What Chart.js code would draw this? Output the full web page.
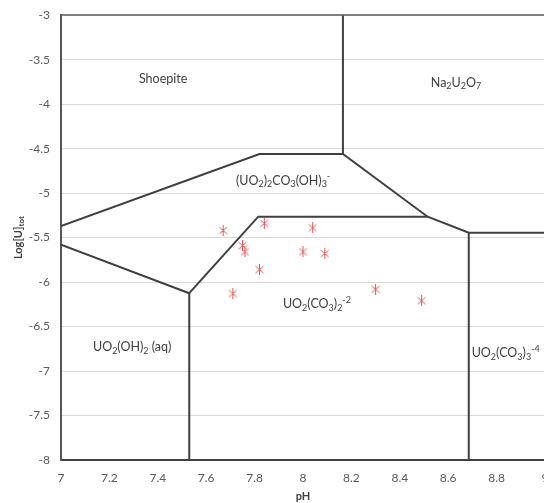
<!DOCTYPE html>
<html>
<head>
<meta charset="utf-8">
<script src="https://cdn.jsdelivr.net/npm/chart.js@4"></script>
<style>
html,body{margin:0;padding:0;background:#fff;overflow:hidden;}
#myChart{display:block;margin-top:-3px;}
</style>
</head>
<body>
<canvas id="myChart" width="580" height="506"></canvas>
<script>
// measured samples (pH, log[U]tot)
const samplePH   = [7.67, 7.84, 8.04, 7.75, 7.76, 8.00, 8.09, 7.82, 7.71, 8.30, 8.49];
const sampleLogU = [-5.42, -5.34, -5.39, -5.59, -5.66, -5.66, -5.68, -5.86, -6.13, -6.08, -6.21];

// stability field boundaries, [pH, logU]
const shoepiteNaLine = [[8.165, -3], [8.165, -4.56]];
const upperLine      = [[7, -5.37], [7.82, -4.56], [8.165, -4.56], [8.515, -5.265], [8.685, -5.445], [9, -5.445]];
const lowerLeftLine  = [[7, -5.58], [7.53, -6.125], [7.53, -8]];
const carbonateLine  = [[7.53, -6.125], [7.815, -5.265], [8.515, -5.265]];
const rightLine      = [[8.685, -5.445], [8.685, -8]];

// field names (left edge pH, logU)
const fieldNames = ['Shoepite', 'Na_{2}U_{2}O_{7}', '(UO_{2})_{2}CO_{3}(OH)_{3}^{-}', 'UO_{2}(CO_{3})_{2}^{-2}', 'UO_{2}(OH)_{2} (aq)', 'UO_{2}(CO_{3})_{3}^{-4}'];
const fieldPH    = [7.322, 8.528, 7.723, 7.917, 7.132, 8.697];
const fieldLogU  = [-3.72, -3.76, -4.86, -6.25, -6.73, -6.80];

const xTickStep = 0.2;
const yTickStep = 0.5;

// asterisk marker like the excel one
const star = document.createElement('canvas');
star.width = 11; star.height = 11;
const sc = star.getContext('2d');
sc.strokeStyle = 'rgb(228,88,88)';
sc.lineWidth = 1;
sc.beginPath();
sc.moveTo(1.5, 2); sc.lineTo(9.5, 9);
sc.moveTo(9.5, 2); sc.lineTo(1.5, 9);
sc.moveTo(5.5, 0); sc.lineTo(5.5, 11);
sc.stroke();

function toPts(arr) { return arr.map(p => ({x: p[0], y: p[1]})); }

function lineSet(arr) {
  return {
    data: toPts(arr),
    showLine: true,
    borderColor: '#3f3f3f',
    borderWidth: 2,
    pointRadius: 0,
    fill: false
  };
}

function parseRich(s) {
  const out = [];
  const re = /_\{([^}]*)\}|\^\{([^}]*)\}|([^_^]+)/g;
  let m;
  while ((m = re.exec(s)) !== null) {
    if (m[1] !== undefined) out.push([m[1], 'sub']);
    else if (m[2] !== undefined) out.push([m[2], 'sup']);
    else out.push([m[3], 'n']);
  }
  return out;
}

function drawRich(ctx, str, x, y, size, weight, color, align) {
  const segs = parseRich(str);
  const fam = 'Lato, "Open Sans", sans-serif';
  const fontFor = t => weight + ' ' + (t == 'n' ? size : Math.round(size * 0.7)) + 'px ' + fam;
  let total = 0;
  segs.forEach(s => { ctx.font = fontFor(s[1]); total += ctx.measureText(s[0]).width; });
  let cx = align == 'center' ? x - total / 2 : x;
  ctx.fillStyle = color;
  ctx.textBaseline = 'middle';
  ctx.textAlign = 'left';
  segs.forEach(s => {
    ctx.font = fontFor(s[1]);
    let dy = 0;
    if (s[1] == 'sub') dy = size * 0.3;
    if (s[1] == 'sup') dy = -size * 0.35;
    ctx.fillText(s[0], cx, y + dy);
    cx += ctx.measureText(s[0]).width;
  });
}

const labelPlugin = {
  id: 'labels',
  afterDraw(chart) {
    const ctx = chart.ctx;
    const xs = chart.scales.x, ys = chart.scales.y;
    ctx.save();
    fieldNames.forEach((n, i) => {
      drawRich(ctx, n, xs.getPixelForValue(fieldPH[i]), ys.getPixelForValue(fieldLogU[i]), 12.5, 'normal', '#404040', 'left');
    });
    // axis titles
    const area = chart.chartArea;
    drawRich(ctx, 'pH', 303, area.bottom + 36, 11, 'bold', '#404040', 'center');
    ctx.translate(18, (area.top + area.bottom) / 2);
    ctx.rotate(-Math.PI / 2);
    drawRich(ctx, 'Log[U]_{tot}', 0, 0, 11, 'bold', '#404040', 'center');
    ctx.restore();
  }
};

const ctx = document.getElementById('myChart');
new Chart(ctx, {
  type: 'scatter',
  data: {
    datasets: [
      lineSet(shoepiteNaLine),
      lineSet(upperLine),
      lineSet(lowerLeftLine),
      lineSet(carbonateLine),
      lineSet(rightLine),
      {
        data: samplePH.map((v, i) => ({x: v, y: sampleLogU[i]})),
        pointStyle: star,
        pointRadius: 5,
        showLine: false
      }
    ]
  },
  options: {
    responsive: false,
    animation: false,
    layout: { padding: { left: 0, top: 11, right: 35, bottom: 0 } },
    plugins: { legend: { display: false }, tooltip: { enabled: false } },
    scales: {
      x: {
        type: 'linear',
        min: 7, max: 9,
        afterFit(scale) { scale.height = 43; },
        grid: { display: false, drawTicks: false },
        border: { color: '#404040', width: 2 },
        ticks: {
          stepSize: xTickStep,
          padding: 11,
          color: '#595959',
          font: { family: 'Lato, "Open Sans", sans-serif', size: 12 },
          callback: v => Number(v.toFixed(1)).toString()
        }
      },
      y: {
        min: -8, max: -3,
        afterFit(scale) { scale.width = 61; },
        grid: {
          drawTicks: false,
          color: c => c.tick && c.tick.value == -3 ? '#808080' : '#d9d9d9',
          lineWidth: c => c.tick && c.tick.value == -3 ? 2 : 1
        },
        border: { color: '#595959', width: 2 },
        ticks: {
          stepSize: yTickStep,
          padding: 11,
          color: '#595959',
          font: { family: 'Lato, "Open Sans", sans-serif', size: 12 },
          callback: v => Number(v.toFixed(1)).toString()
        }
      }
    }
  },
  plugins: [labelPlugin]
});
</script>
</body>
</html>
